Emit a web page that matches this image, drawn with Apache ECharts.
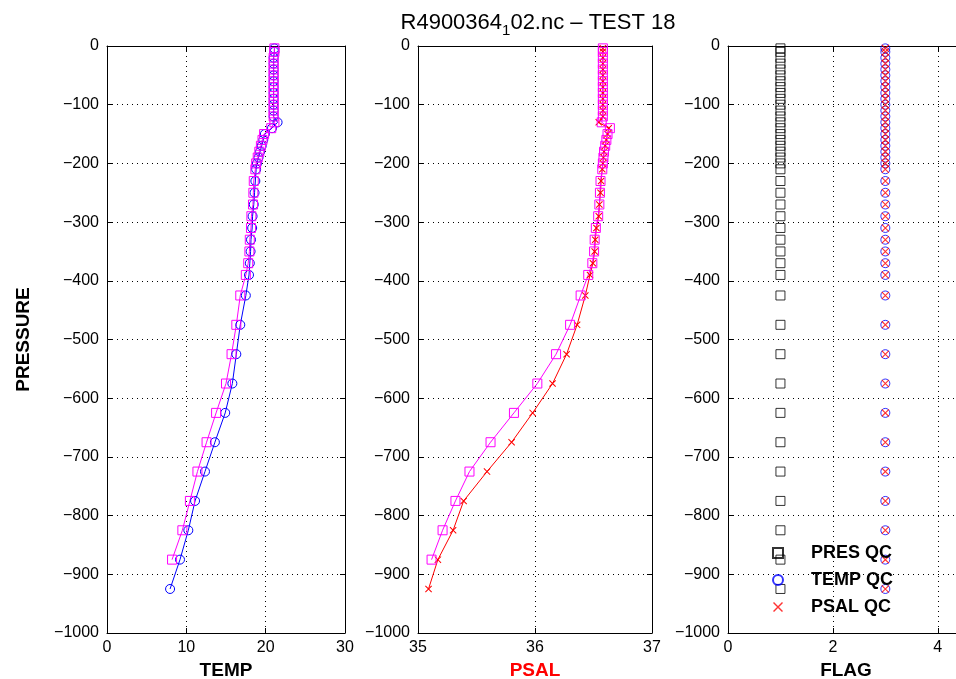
<!DOCTYPE html>
<html>
<head>
<meta charset="utf-8">
<script src="https://cdn.jsdelivr.net/npm/echarts@6/dist/echarts.min.js"></script>
<style>
  html, body { margin: 0; padding: 0; background: #fff; }
  #c_container { width: 956px; height: 679px; }
</style>
</head>
<body>
<div id="c_container"></div>
<script>
// pressure levels (dbar), plotted as negative depth
var pres = [4, 10, 20, 30, 40, 50, 60, 70, 80, 90, 100, 110, 120,
  130, 140, 150, 160, 170, 180, 190, 200,
  210, 230, 250, 270, 290, 310, 330, 350, 370, 390,
  425, 475, 525, 575, 625, 675, 725, 775, 825, 875, 925];

// TEMP panel: blue circles / magenta squares
var temp_blue = [21.1, 21.1, 21.0, 21.0, 21.0, 21.0, 21.0, 21.0, 21.0, 21.0, 21.0, 21.0, 21.0,
  21.5, 20.8, 19.9, 19.7, 19.5, 19.3, 19.1, 18.9,
  18.8, 18.7, 18.6, 18.5, 18.35, 18.3, 18.15, 18.1, 18.0, 17.9,
  17.5, 16.8, 16.3, 15.8, 14.9, 13.6, 12.35, 11.1, 10.25, 9.2, 7.95];
var temp_mag = [21.1, 21.1, 21.0, 21.0, 21.0, 21.0, 21.0, 21.0, 21.0, 21.0, 21.0, 21.0, 21.0,
  21.1, 20.7, 19.8, 19.6, 19.4, 19.2, 19.0, 18.8,
  18.7, 18.5, 18.45, 18.4, 18.2, 18.15, 18.0, 17.95, 17.8, 17.5,
  16.8, 16.3, 15.7, 15.0, 13.75, 12.55, 11.4, 10.45, 9.5, 8.2, null];

// PSAL panel: red crosses / magenta squares
var psal_red = [36.58, 36.58, 36.58, 36.58, 36.58, 36.58, 36.58, 36.58, 36.58, 36.58, 36.58, 36.58, 36.58,
  36.545, 36.63, 36.62, 36.61, 36.60, 36.59, 36.585, 36.58,
  36.575, 36.565, 36.56, 36.55, 36.545, 36.525, 36.515, 36.51, 36.495, 36.47,
  36.43, 36.36, 36.27, 36.15, 35.98, 35.80, 35.59, 35.39, 35.30, 35.17, 35.09];
var psal_mag = [36.58, 36.58, 36.58, 36.58, 36.58, 36.58, 36.58, 36.58, 36.58, 36.58, 36.58, 36.58, 36.58,
  36.57, 36.64, 36.62, 36.61, 36.60, 36.59, 36.585, 36.58,
  36.575, 36.56, 36.555, 36.55, 36.54, 36.52, 36.51, 36.505, 36.49, 36.455,
  36.39, 36.30, 36.18, 36.02, 35.82, 35.62, 35.44, 35.32, 35.21, 35.116, null];

// FLAG panel
var pres_qc = [1, 1, 1, 1, 1, 1, 1, 1, 1, 1, 1, 1, 1, 1, 1, 1, 1, 1, 1, 1, 1,
  1, 1, 1, 1, 1, 1, 1, 1, 1, 1, 1, 1, 1, 1, 1, 1, 1, 1, 1, 1, 1];
var temp_qc = [3, 3, 3, 3, 3, 3, 3, 3, 3, 3, 3, 3, 3, 3, 3, 3, 3, 3, 3, 3, 3,
  3, 3, 3, 3, 3, 3, 3, 3, 3, 3, 3, 3, 3, 3, 3, 3, 3, 3, 3, 3, 3];
var psal_qc = [3, 3, 3, 3, 3, 3, 3, 3, 3, 3, 3, 3, 3, 3, 3, 3, 3, 3, 3, 3, 3,
  3, 3, 3, 3, 3, 3, 3, 3, 3, 3, 3, 3, 3, 3, 3, 3, 3, 3, 3, 3, 3];

var y_ticks = [0, -100, -200, -300, -400, -500, -600, -700, -800, -900, -1000];
var flag_ticks = [0, 2, 4];

var font = "'Liberation Sans', Arial, sans-serif";
var crossPath = "path://M0,1L1,0L10,9L9,10Z M9,0L10,1L1,10L0,9Z";

function pairs(xs) {
  var out = [];
  for (var k = 0; k < pres.length; k++) {
    if (xs[k] != null) out.push([xs[k], -pres[k]]);
  }
  return out;
}

var grids = [
  { left: 107, top: 46, width: 238, height: 587, outerBoundsMode: "none", containLabel: false },
  { left: 418, top: 46, width: 234, height: 587, outerBoundsMode: "none", containLabel: false },
  { left: 728, top: 46, width: 236, height: 587, outerBoundsMode: "none", containLabel: false },
];
var xr = [
  { min: 0, max: 30, interval: 10, name: "TEMP", color: "#000" },
  { min: 35, max: 37, interval: 1, name: "PSAL", color: "#ff0000" },
  { min: 0, max: 4.5, interval: 2, name: "FLAG", color: "#000" },
];

var xAxis = [];
var yAxis = [];
for (var i = 0; i < 3; i++) {
  var isFlag = i === 2;
  xAxis.push({
    type: "value", gridIndex: i, position: "bottom",
    min: xr[i].min, max: xr[i].max, interval: xr[i].interval,
    name: xr[i].name, nameLocation: "middle", nameGap: 25,
    nameTextStyle: { color: xr[i].color, fontSize: 19, fontWeight: "bold", fontFamily: font },
    axisLine: { onZero: false, lineStyle: { color: "#000", width: 1 } },
    axisTick: { inside: true, length: 5, lineStyle: { color: "#000" } },
    axisLabel: {
      color: "#000", fontSize: 16, fontFamily: font, margin: 7,
      formatter: isFlag
        ? function (v) { return flag_ticks.indexOf(v) >= 0 ? String(v) : ""; }
        : function (v) { return String(v); },
    },
    splitLine: { show: true, lineStyle: { color: "#000", type: [1, 4], width: 1 } },
  });
  xAxis.push({
    type: "value", gridIndex: i, position: "top",
    min: xr[i].min, max: xr[i].max, interval: xr[i].interval,
    axisLine: { onZero: false, lineStyle: { color: "#000", width: 1 } },
    axisTick: { inside: true, length: 5, lineStyle: { color: "#000" } },
    axisLabel: { show: false },
    splitLine: { show: false },
  });
  yAxis.push({
    type: "value", gridIndex: i, position: "left",
    min: -1000, max: 0, interval: 100,
    name: i === 0 ? "PRESSURE" : "", nameLocation: "middle", nameGap: 74,
    nameTextStyle: { color: "#000", fontSize: 19, fontWeight: "bold", fontFamily: font },
    axisLine: { onZero: false, lineStyle: { color: "#000", width: 1 } },
    axisTick: { inside: true, length: 5, lineStyle: { color: "#000" } },
    axisLabel: {
      color: "#000", fontSize: 16, fontFamily: font, margin: 8,
      formatter: function (v) { return y_ticks.indexOf(v) >= 0 ? String(v).replace("-", "\u2212") : ""; },
    },
    splitLine: { show: true, lineStyle: { color: "#000", type: [1, 4], width: 1 } },
  });
  yAxis.push({
    type: "value", gridIndex: i, position: "right",
    min: -1000, max: 0, interval: 100,
    axisLine: { onZero: false, lineStyle: { color: "#000", width: 1 } },
    axisTick: { inside: true, length: 5, lineStyle: { color: "#000" } },
    axisLabel: { show: false },
    splitLine: { show: false },
  });
}

function lineSeries(name, idx, xs, color, symbol, size) {
  return {
    name: name, type: "line", xAxisIndex: idx * 2, yAxisIndex: idx * 2,
    data: pairs(xs), symbol: symbol, symbolSize: size, showSymbol: true,
    lineStyle: { color: color, width: 1 },
    itemStyle: symbol === crossPath
      ? { color: color }
      : { color: "transparent", borderColor: color, borderWidth: 1 },
    animation: false,
  };
}
function flagSeries(name, xs, color, symbol, size) {
  return {
    name: name, type: "scatter", xAxisIndex: 4, yAxisIndex: 4,
    data: pairs(xs), symbol: symbol, symbolSize: size,
    itemStyle: symbol === crossPath
      ? { color: color }
      : { color: "transparent", borderColor: color, borderWidth: 1 },
    animation: false,
  };
}

var myChart = echarts.init(document.getElementById("c_container"));
myChart.setOption({
  backgroundColor: "#fff",
  animation: false,
  title: {
    text: "{a|R4900364}{b|1}{a|02.nc \u2013 TEST 18}",
    left: 533, top: 3, textAlign: "center",
    textStyle: {
      rich: {
        a: { fontSize: 22, fontWeight: "normal", fontFamily: font, color: "#000", lineHeight: 30, verticalAlign: "middle" },
        b: { fontSize: 15, fontWeight: "normal", fontFamily: font, color: "#000", verticalAlign: "bottom", lineHeight: 30 },
      },
    },
  },
  legend: {
    data: ["PRES QC", "TEMP QC", "PSAL QC"],
    orient: "vertical", left: 767, top: 539,
    itemWidth: 10, itemHeight: 10, itemGap: 9,
    selectedMode: false,
    textStyle: {
      color: "#000", fontSize: 18, fontWeight: "bold", fontFamily: font,
      lineHeight: 18, padding: [0, 0, 0, 23],
    },
  },
  grid: grids,
  xAxis: xAxis,
  yAxis: yAxis,
  series: [
    lineSeries("TEMP", 0, temp_blue, "#0000ff", "circle", 9),
    lineSeries("TEMP adj", 0, temp_mag, "#ff00ff", "rect", 9),
    lineSeries("PSAL", 1, psal_red, "#ff0000", crossPath, 7),
    lineSeries("PSAL adj", 1, psal_mag, "#ff00ff", "rect", 9),
    flagSeries("PRES QC", pres_qc, "#000000", "rect", 9),
    flagSeries("TEMP QC", temp_qc, "#0000ff", "circle", 9),
    flagSeries("PSAL QC", psal_qc, "#ff0000", crossPath, 8),
  ],
});
</script>
</body>
</html>
